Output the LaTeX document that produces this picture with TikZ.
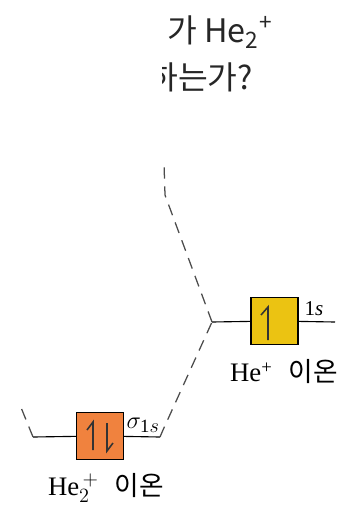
\documentclass[tikz,border=0pt]{standalone}
\usepackage{fontspec}
\setmainfont{Liberation Serif}
\newfontfamily\kofont{Noto Sans CJK KR}
\usetikzlibrary{positioning}

\definecolor{heyellow}{HTML}{EBC312}
\definecolor{sigorange}{HTML}{F0823E}

\begin{document}
\begin{tikzpicture}[
    x=0.025cm, y=-0.025cm,
    orb/.style={draw, line width=0.9pt, inner sep=0pt, minimum width=1.18cm, minimum height=1.18cm},
    level/.style={line width=0.8pt},
    corr/.style={line width=0.9pt, black!70, dash pattern=on 8pt off 5.5pt},
    spin/.style={line width=1.1pt, black!80, line join=miter},
    every node/.style={font=\fontsize{19}{22}\selectfont}
  ]
  \useasboundingbox (0,0) rectangle (349,505);

  % ---- question text ----
  \begin{scope}
    \clip (162,0) rectangle (349,110);
    \node[anchor=base west, inner sep=0pt, font=\kofont\fontsize{23}{27}\selectfont, text=black!85] (qa) at (167,43) {가 He\textsubscript{2}\textsuperscript{+}};
    \node[anchor=base west, inner sep=0pt, font=\kofont\fontsize{23}{27}\selectfont, text=black!85] (qb) at (148,90) {하는가?};
  \end{scope}

  % ---- He+ ----
  \node[orb, fill=heyellow] (hebox) at (274.5,321) {};
  \coordinate (hel) at (212,322);
  \coordinate (her) at (335,322);
  \draw[level] (hel) -- (hebox);
  \draw[level] (hebox) -- (her);
  \draw[spin] (268,340) -- (268,307) -- (261,315);
  \node[anchor=south west, inner sep=1pt, font=\fontsize{15}{18}\selectfont] (helvl) at (303,317) {1\textit{s}};
  \node (helbl) at (284,372) {He\textsuperscript{+}\hspace{0.6em}{\kofont 이온}};

  % ---- He2+ ----
  \node[orb, fill=sigorange] (sigbox) at (100,436) {};
  \coordinate (sigl) at (33,437);
  \coordinate (sigr) at (160,437);
  \draw[level] (sigl) -- (sigbox);
  \draw[level] (sigbox) -- (sigr);
  \draw[spin] (93,450) -- (93,422) -- (87,430);
  \draw[spin] (107,423) -- (107,451) -- (113,443);
  \node[anchor=south west, inner sep=1pt] (siglvl) at (125,434) {$\sigma_{\mathrm{1}s}$};
  \node (siglbl) at (106,488) {He$_2^{\,+}$\hspace{0.6em}{\kofont 이온}};

  % ---- correlation lines ----
  \coordinate (topend) at (164,163);
  \coordinate (topbend) at (165,195);
  \coordinate (leftend) at (20,405);
  \draw[corr] (hel) -- (topbend) -- (topend);
  \draw[corr] (sigr) -- (163,430) -- (hel);
  \draw[corr] (sigl) -- (leftend);
\end{tikzpicture}
\end{document}
